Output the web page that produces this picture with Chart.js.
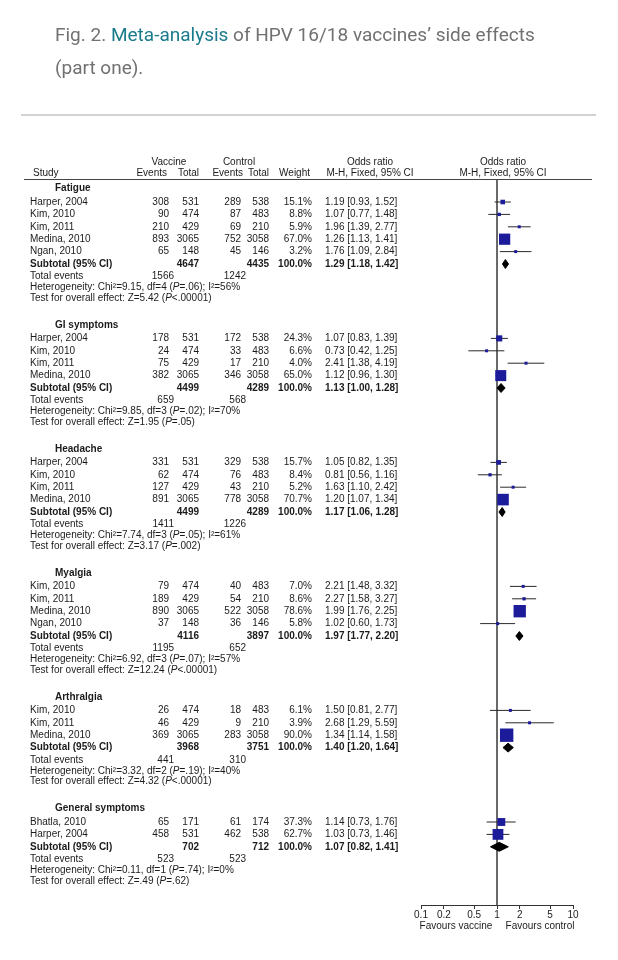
<!DOCTYPE html>
<html>
<head>
<meta charset="utf-8">
<title>Fig. 2. Meta-analysis of HPV 16/18 vaccines’ side effects (part one)</title>
<script src="https://cdn.jsdelivr.net/npm/chart.js@4.4.1/dist/chart.umd.min.js"></script>
<style>
  html, body { margin: 0; padding: 0; background: #fff; }
  body { width: 618px; height: 960px; position: relative; overflow: hidden; }
  #forest { position: absolute; left: 0; top: 0; }
  .caption {
    position: absolute; left: 55px; top: 18px; width: 560px;
    font-family: Roboto, "Noto Sans", sans-serif; font-size: 19px; line-height: 33px;
    color: #717171; white-space: nowrap;
  }
  .caption .link { color: #1a7b8b; }
  .rule { position: absolute; left: 21px; top: 114px; width: 575px; border-top: 2px solid #d2d2d2; }
</style>
</head>
<body>
<canvas id="forest" width="618" height="960"></canvas>
<div class="caption">Fig. 2. <span class="link">Meta-analysis</span> of HPV 16/18 vaccines’ side effects<br>(part one).</div>
<div class="rule"></div>
<script>
// subgroups
const groupNames = ['Fatigue', 'GI symptoms', 'Headache', 'Myalgia', 'Arthralgia', 'General symptoms'];

// studies (one entry per row)
const studyGroup = [0, 0, 0, 0, 0, 1, 1, 1, 1, 2, 2, 2, 2, 3, 3, 3, 3, 4, 4, 4, 5, 5];
const studyNames = [
  'Harper, 2004', 'Kim, 2010', 'Kim, 2011', 'Medina, 2010', 'Ngan, 2010',
  'Harper, 2004', 'Kim, 2010', 'Kim, 2011', 'Medina, 2010',
  'Harper, 2004', 'Kim, 2010', 'Kim, 2011', 'Medina, 2010',
  'Kim, 2010', 'Kim, 2011', 'Medina, 2010', 'Ngan, 2010',
  'Kim, 2010', 'Kim, 2011', 'Medina, 2010',
  'Bhatla, 2010', 'Harper, 2004'
];
const vacEvents = [308, 90, 210, 893, 65, 178, 24, 75, 382, 331, 62, 127, 891, 79, 189, 890, 37, 26, 46, 369, 65, 458];
const vacTotal = [531, 474, 429, 3065, 148, 531, 474, 429, 3065, 531, 474, 429, 3065, 474, 429, 3065, 148, 474, 429, 3065, 171, 531];
const ctlEvents = [289, 87, 69, 752, 45, 172, 33, 17, 346, 329, 76, 43, 778, 40, 54, 522, 36, 18, 9, 283, 61, 462];
const ctlTotal = [538, 483, 210, 3058, 146, 538, 483, 210, 3058, 538, 483, 210, 3058, 483, 210, 3058, 146, 483, 210, 3058, 174, 538];
const weightPct = [15.1, 8.8, 5.9, 67.0, 3.2, 24.3, 6.6, 4.0, 65.0, 15.7, 8.4, 5.2, 70.7, 7.0, 8.6, 78.6, 5.8, 6.1, 3.9, 90.0, 37.3, 62.7];
const oddsRatio = [1.19, 1.07, 1.96, 1.26, 1.76, 1.07, 0.73, 2.41, 1.12, 1.05, 0.81, 1.63, 1.20, 2.21, 2.27, 1.99, 1.02, 1.50, 2.68, 1.34, 1.14, 1.03];
const ciLow = [0.93, 0.77, 1.39, 1.13, 1.09, 0.83, 0.42, 1.38, 0.96, 0.82, 0.56, 1.10, 1.07, 1.48, 1.58, 1.76, 0.60, 0.81, 1.29, 1.14, 0.73, 0.73];
const ciHigh = [1.52, 1.48, 2.77, 1.41, 2.84, 1.39, 1.25, 4.19, 1.30, 1.35, 1.16, 2.42, 1.34, 3.32, 3.27, 2.25, 1.73, 2.77, 5.59, 1.58, 1.76, 1.46];

// subtotals
const subVacTotal = [4647, 4499, 4499, 4116, 3968, 702];
const subCtlTotal = [4435, 4289, 4289, 3897, 3751, 712];
const subOR = [1.29, 1.13, 1.17, 1.97, 1.40, 1.07];
const subLow = [1.18, 1.00, 1.06, 1.77, 1.20, 0.82];
const subHigh = [1.42, 1.28, 1.28, 2.20, 1.64, 1.41];
const subVacEvents = [1566, 659, 1411, 1195, 441, 523];
const subCtlEvents = [1242, 568, 1226, 652, 310, 523];
const hetChi2 = ['9.15', '9.85', '7.74', '6.92', '3.32', '0.11'];
const hetDf = [4, 3, 3, 3, 2, 1];
const hetP = ['=.06', '=.02', '=.05', '=.07', '=.19', '=.74'];
const hetI2 = [56, 70, 61, 57, 40, 0];
const effectZ = ['5.42', '1.95', '3.17', '12.24', '4.32', '.49'];
const effectP = ['<.00001', '=.05', '=.002', '<.00001', '<.00001', '=.62'];

// axis
const tickValues = [0.1, 0.2, 0.5, 1, 2, 5, 10];
const tickLabels = ['0.1', '0.2', '0.5', '1', '2', '5', '10'];

// ---- layout ----
const FONT = '10px "Liberation Sans", Arial, sans-serif';
const BOLD = 'bold ' + FONT;
const INK = '#1b1b1b';
const ROW0 = 189.6, PITCH = 12.4;      // pixel of row 0, row height
const TOP = 179, BOTTOM = 905;         // header rule, x axis
const X_LEFT = 421, X_RIGHT = 573;     // 0.1 and 10 on the log axis
const COL = { name: 30, group: 55, vEv: 169, vTot: 199, cEv: 241, cTot: 269, wt: 312, or: 325 };

// work out which row each item sits on
const studyRow = [], subRow = [], groupRow = [];
let r = 0;
groupNames.forEach((g, gi) => {
  groupRow.push(r);
  let k = 0;
  studyGroup.forEach((sg, si) => {
    if (sg === gi) { k++; studyRow[si] = r + k; }
  });
  subRow.push(r + k + 1);
  r += k + 6;
});

const fmt = v => v.toFixed(2);
const orText = (o, l, h) => `${fmt(o)} [${fmt(l)}, ${fmt(h)}]`;
const markerSide = w => Math.max(3, 0.9 * Math.pow(w, 0.6));

// ---- datasets ----
const datasets = [];

datasets.push({
  type: 'scatter',
  label: 'studies',
  data: oddsRatio.map((o, i) => ({ x: o, y: studyRow[i] })),
  pointStyle: 'rect',
  pointRadius: weightPct.map(w => markerSide(w) / Math.SQRT2),
  pointBackgroundColor: '#1c1c9a',
  pointBorderColor: '#1c1c9a',
  pointBorderWidth: 0,
  order: 0
});

subOR.forEach((o, gi) => {
  const y = subRow[gi];
  datasets.push({
    type: 'line',
    label: 'subtotal ' + groupNames[gi],
    data: [
      { x: subLow[gi], y: y }, { x: o, y: y - 0.36 },
      { x: subHigh[gi], y: y }, { x: o, y: y + 0.36 }, { x: subLow[gi], y: y }
    ],
    borderColor: '#000',
    backgroundColor: '#000',
    borderWidth: 1,
    fill: 'shape',
    pointRadius: 0,
    tension: 0,
    order: 1
  });
});

oddsRatio.forEach((o, i) => {
  datasets.push({
    type: 'line',
    label: 'ci ' + i,
    data: [{ x: ciLow[i], y: studyRow[i] }, { x: ciHigh[i], y: studyRow[i] }],
    borderColor: '#2a2a2a',
    borderWidth: 1,
    pointRadius: 0,
    fill: false,
    order: 2
  });
});

const yMin = (TOP - ROW0) / PITCH;
const yMax = (BOTTOM - ROW0) / PITCH;

datasets.push({
  type: 'line',
  label: 'no effect',
  data: [{ x: 1, y: yMin }, { x: 1, y: yMax }],
  borderColor: '#555',
  borderWidth: 1,
  pointRadius: 0,
  fill: false,
  order: 3
});

// ---- table text drawn next to the plot ----
function drawRich(ctx, parts, x, y) {
  let cx = x;
  parts.forEach(([t, italic]) => {
    ctx.font = italic ? 'italic ' + FONT : FONT;
    ctx.fillText(t, cx, y);
    cx += ctx.measureText(t).width;
  });
}

const tablePlugin = {
  id: 'forestTable',
  afterDraw(chart) {
    const ctx = chart.ctx;
    const py = v => chart.scales.y.getPixelForValue(v);
    ctx.save();
    ctx.fillStyle = INK;
    ctx.textBaseline = 'middle';

    // column headers
    ctx.font = FONT;
    ctx.textAlign = 'center';
    ctx.fillText('Vaccine', 169, 162);
    ctx.fillText('Control', 239, 162);
    ctx.fillText('Odds ratio', 370, 162);
    ctx.fillText('Odds ratio', 503, 162);
    ctx.fillText('M-H, Fixed, 95% CI', 370, 173);
    ctx.fillText('M-H, Fixed, 95% CI', 503, 173);
    ctx.textAlign = 'left';
    ctx.fillText('Study', 33, 173);
    ctx.textAlign = 'right';
    ctx.fillText('Events', 167, 173);
    ctx.fillText('Total', 199, 173);
    ctx.fillText('Events', 243, 173);
    ctx.fillText('Total', 269, 173);
    ctx.fillText('Weight', 310, 173);

    ctx.strokeStyle = '#444';
    ctx.lineWidth = 1;
    ctx.beginPath();
    ctx.moveTo(24, TOP + 0.5);
    ctx.lineTo(592, TOP + 0.5);
    ctx.stroke();

    groupNames.forEach((g, gi) => {
      ctx.font = BOLD;
      ctx.textAlign = 'left';
      ctx.fillText(g, COL.group, py(groupRow[gi] - 0.1));

      // studies
      studyGroup.forEach((sg, si) => {
        if (sg !== gi) return;
        const y = py(studyRow[si]);
        ctx.font = FONT;
        ctx.textAlign = 'left';
        ctx.fillText(studyNames[si], COL.name, y);
        ctx.fillText(orText(oddsRatio[si], ciLow[si], ciHigh[si]), COL.or, y);
        ctx.textAlign = 'right';
        ctx.fillText(String(vacEvents[si]), COL.vEv, y);
        ctx.fillText(String(vacTotal[si]), COL.vTot, y);
        ctx.fillText(String(ctlEvents[si]), COL.cEv, y);
        ctx.fillText(String(ctlTotal[si]), COL.cTot, y);
        ctx.fillText(weightPct[si].toFixed(1) + '%', COL.wt, y);
      });

      // subtotal
      const s = subRow[gi];
      let y = py(s);
      ctx.font = BOLD;
      ctx.textAlign = 'left';
      ctx.fillText('Subtotal (95% CI)', COL.name, y);
      ctx.fillText(orText(subOR[gi], subLow[gi], subHigh[gi]), COL.or, y);
      ctx.textAlign = 'right';
      ctx.fillText(String(subVacTotal[gi]), COL.vTot, y);
      ctx.fillText(String(subCtlTotal[gi]), COL.cTot, y);
      ctx.fillText('100.0%', COL.wt, y);

      // total events
      y = py(s + 1);
      ctx.font = FONT;
      ctx.textAlign = 'left';
      ctx.fillText('Total events', COL.name, y);
      ctx.textAlign = 'right';
      ctx.fillText(String(subVacEvents[gi]), COL.vEv + 5, y);
      ctx.fillText(String(subCtlEvents[gi]), COL.cEv + 5, y);

      ctx.textAlign = 'left';
      drawRich(ctx, [
        ['Heterogeneity: Chi²=' + hetChi2[gi] + ', df=' + hetDf[gi] + ' ('],
        ['P', true],
        [hetP[gi] + '); I²=' + hetI2[gi] + '%']
      ], COL.name, py(s + 1.9));
      drawRich(ctx, [
        ['Test for overall effect: Z=' + effectZ[gi] + ' ('],
        ['P', true],
        [effectP[gi] + ')']
      ], COL.name, py(s + 2.75));
    });

    // axis captions
    ctx.font = FONT;
    ctx.textAlign = 'center';
    ctx.fillText('Favours vaccine', 456, 926);
    ctx.fillText('Favours control', 540, 926);
    ctx.restore();
  }
};

// ---- chart ----
const forestCtx = document.getElementById('forest').getContext('2d');
const forestChart = new Chart(forestCtx, {
  type: 'scatter',
  data: { datasets: datasets },
  options: {
    responsive: false,
    animation: false,
    devicePixelRatio: 1,
    layout: {
      padding: { left: X_LEFT, right: 618 - X_RIGHT, top: TOP, bottom: 960 - BOTTOM - 22 }
    },
    plugins: {
      legend: { display: false },
      tooltip: { enabled: false }
    },
    scales: {
      x: {
        type: 'logarithmic',
        position: 'bottom',
        min: 0.1,
        max: 10,
        afterBuildTicks: scale => { scale.ticks = tickValues.map(v => ({ value: v })); },
        afterFit: scale => { scale.height = 22; },
        ticks: {
          autoSkip: false,
          maxRotation: 0,
          padding: 0,
          color: INK,
          font: { family: '"Liberation Sans", Arial, sans-serif', size: 10 },
          callback: function (value) {
            const i = tickValues.indexOf(value);
            return i >= 0 ? tickLabels[i] : '';
          }
        },
        grid: { drawOnChartArea: false, drawTicks: true, tickLength: 4, color: '#333' },
        border: { display: true, color: '#333', width: 1 }
      },
      y: {
        type: 'linear',
        reverse: true,
        min: yMin,
        max: yMax,
        display: false
      }
    }
  },
  plugins: [tablePlugin]
});
</script>
</body>
</html>
